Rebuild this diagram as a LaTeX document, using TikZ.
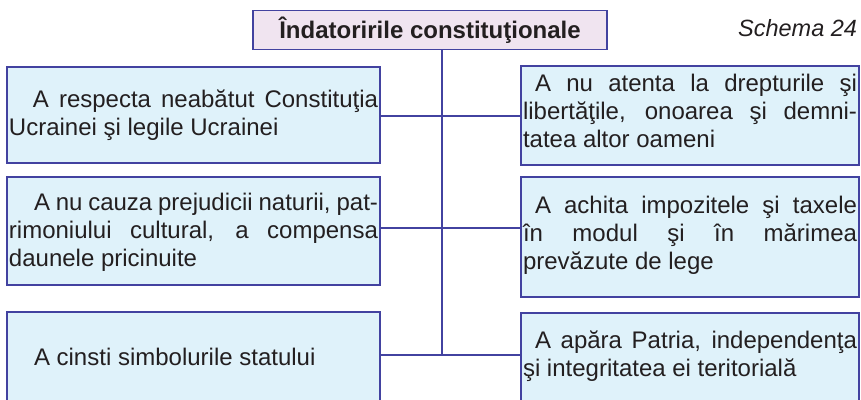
\documentclass[tikz,border=0pt]{standalone}
\usepackage{fontspec}
\setmainfont{Liberation Sans}
\definecolor{boxfill}{RGB}{223,242,250}
\definecolor{titlefill}{RGB}{240,228,240}
\definecolor{edge}{RGB}{66,66,160}
\definecolor{ink}{RGB}{35,31,32}
\tolerance=10000
\hyphenpenalty=10000
\begin{document}
\begin{tikzpicture}[x=1pt,y=-1pt,
  every node/.style={inner sep=0pt, outer sep=0pt},
  base/.style={draw=edge, line width=1.3pt, text=ink, anchor=north west,
    inner xsep=2pt, inner ysep=0pt},
  bodyfont/.style={font=\fontsize{24}{28}\selectfont},
  lbox/.style={base, bodyfont, fill=boxfill, text width=369pt, align=justify},
  rbox/.style={base, bodyfont, fill=boxfill, text width=334pt, align=justify},
  link/.style={draw=edge, line width=1.3pt}
]
\useasboundingbox (0,0) rectangle (861,399);
\clip (0,0) rectangle (861,399);

\node[base, fill=titlefill, font=\fontsize{24}{26.5}\selectfont\bfseries,
  minimum width=354pt, minimum height=39pt, align=center] (title) at (253,10.5)
  {Îndatoririle constituţionale};
\node[font=\fontsize{23.5}{26}\selectfont\itshape, text=ink, anchor=base east] (schema)
  at (857,36) {Schema 24};

\node[lbox, text height=40pt, text depth=56pt] (l1) at (7,67)
  {\hspace*{24pt}A respecta neabătut Constituţia\linebreak Ucrainei şi legile Ucrainei};
\node[lbox, text height=33pt, text depth=75pt] (l2) at (7,177)
  {\hspace*{25pt}A nu cauza prejudicii naturii, pat-\linebreak rimoniului cultural, a compensa\linebreak daunele pricinuite};
\node[lbox, text height=53pt, text depth=40pt] (l3) at (7,312)
  {\hspace*{25pt}A cinsti simbolurile statului};

\node[rbox, text height=25pt, text depth=74pt] (r1) at (521,66)
  {\hspace*{12pt}A nu atenta la drepturile şi\linebreak libertăţile, onoarea şi demni-\linebreak tatea altor oameni};
\node[rbox, text height=36pt, text depth=84pt] (r2) at (521,177)
  {\hspace*{12pt}A achita impozitele şi taxele\linebreak în modul şi în mărimea\linebreak prevăzute de lege};
\node[rbox, text height=35pt, text depth=57pt] (r3) at (521,313)
  {\hspace*{12pt}A apăra Patria, independenţa\linebreak şi integritatea ei teritorială};

\coordinate (j1) at (442,116);
\coordinate (j2) at (442,228);
\coordinate (j3) at (442,355);
\draw[link] (title.south -| j1) -- (j3);
\draw[link] (l1.east |- j1) -- (r1.west |- j1);
\draw[link] (l2.east |- j2) -- (r2.west |- j2);
\draw[link] (l3.east |- j3) -- (r3.west |- j3);
\end{tikzpicture}
\end{document}
